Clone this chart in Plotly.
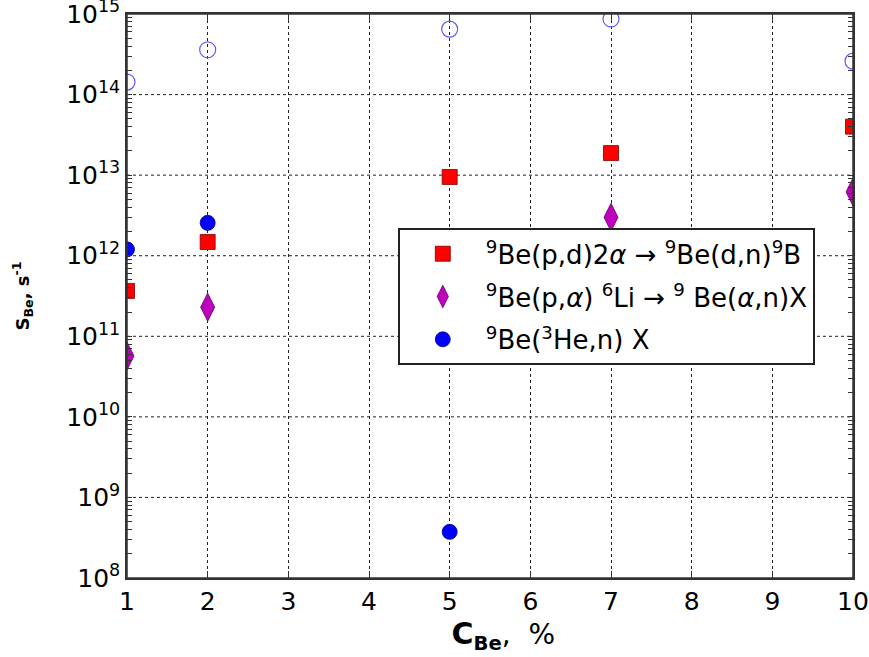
import plotly.graph_objects as go

# data
x_open = [1, 2, 5, 7, 10]
y_open = [1.43e14, 3.6e14, 6.5e14, 8.7e14, 2.6e14]

x_sq = [1, 2, 5, 7, 10]
y_sq = [3.66e11, 1.48e12, 9.5e12, 1.88e13, 4.0e13]

x_dia = [1, 2, 5, 7, 10]
y_dia = [5.7e10, 2.3e11, 1.2e12, 3.0e12, 6.2e12]

x_circ = [1, 2, 5]
y_circ = [1.2e12, 2.56e12, 3.74e8]

y_major = [1e8, 1e9, 1e10, 1e11, 1e12, 1e13, 1e14, 1e15]
y_major_text = ["10<sup>%d</sup>" % e for e in range(8, 16)]
y_minor = [k * 10 ** e for e in range(8, 15) for k in range(2, 10)]
x_tickvals = list(range(1, 11))

lbl_sq = "<sup>9</sup>Be(p,d)2<i>α</i> → <sup>9</sup>Be(d,n)<sup>9</sup>B"
lbl_dia = "<sup>9</sup>Be(p,<i>α</i>) <sup>6</sup>Li → <sup>9</sup> Be(<i>α</i>,n)X"
lbl_circ = "<sup>9</sup>Be(<sup>3</sup>He,n) X"

YRANGE = [8, 15.0004]

fig = go.Figure()
fig.add_trace(go.Scatter(x=x_open, y=y_open, mode="markers", showlegend=False, cliponaxis=True,
                         marker=dict(symbol="circle-open", size=16, color="#5a5aff",
                                     line=dict(width=1.2, color="#5a5aff"))))
fig.add_trace(go.Scatter(x=x_sq, y=y_sq, mode="markers", name=lbl_sq, legendgroup="a", cliponaxis=True,
                         marker=dict(symbol="square", size=15, color="#ff0000",
                                     line=dict(width=0.8, color="#800000"))))
fig.add_trace(go.Scatter(x=x_dia, y=y_dia, mode="markers", name=lbl_dia, legendgroup="b", cliponaxis=True,
                         marker=dict(symbol="diamond-tall", size=20, color="#bf00bf",
                                     line=dict(width=0.8, color="#600060"))))
fig.add_trace(go.Scatter(x=x_circ, y=y_circ, mode="markers", name=lbl_circ, legendgroup="c", cliponaxis=True,
                         marker=dict(symbol="circle", size=15, color="#0000ff",
                                     line=dict(width=0.8, color="#000080"))))

axis_common = dict(showline=True, linecolor="#333", linewidth=1.5, mirror="allticks",
                   ticks="inside", tickcolor="#333", automargin=False,
                   ticklabeloverflow="allow", zeroline=False,
                   tickfont=dict(family="DejaVu Sans", size=25, color="black"))

fig.update_xaxes(range=[1, 10], tickvals=x_tickvals, ticklen=7, **axis_common,
                 showgrid=True, gridcolor="#222", griddash="dot", gridwidth=1,
                 title=dict(text="&nbsp;&nbsp;&nbsp;<b><span style='font-size:30px'>C</span><sub>Be</sub></b>,&nbsp;&nbsp;%",
                            font=dict(family="DejaVu Sans", size=28, color="black"), standoff=6))

y_all = y_major + y_minor
y_all_text = y_major_text + [""] * len(y_minor)
fig.update_yaxes(type="log", range=YRANGE, tickmode="array", tickvals=y_all, ticktext=y_all_text,
                 ticklen=5, showgrid=False, **axis_common,
                 title=dict(text="<b>S<sub>Be</sub>, s<sup>-1</sup></b>",
                            font=dict(family="DejaVu Sans", size=18, color="black"), standoff=32))

# major horizontal grid lines at the major tick values
for v in y_major[1:-1]:
    fig.add_shape(type="line", xref="paper", yref="y", x0=0, x1=1, y0=v, y1=v,
                  line=dict(color="#222", width=1, dash="dot"), layer="below")

fig.add_shape(type="rect", xref="paper", yref="paper", x0=0, y0=0, x1=1, y1=1,
              line=dict(color="#333", width=1.5), fillcolor="rgba(0,0,0,0)", layer="above")

fig.update_layout(
    width=869, height=657,
    margin=dict(l=127, r=16, t=14, b=79),
    paper_bgcolor="white", plot_bgcolor="white",
    legend=dict(x=0.373, y=0.62, xanchor="left", yanchor="top",
                bgcolor="white", bordercolor="#222", borderwidth=2,
                font=dict(family="DejaVu Sans", size=26, color="black"),
                itemwidth=76, tracegroupgap=6, entrywidth=420),
)

fig.write_html("out.html")
